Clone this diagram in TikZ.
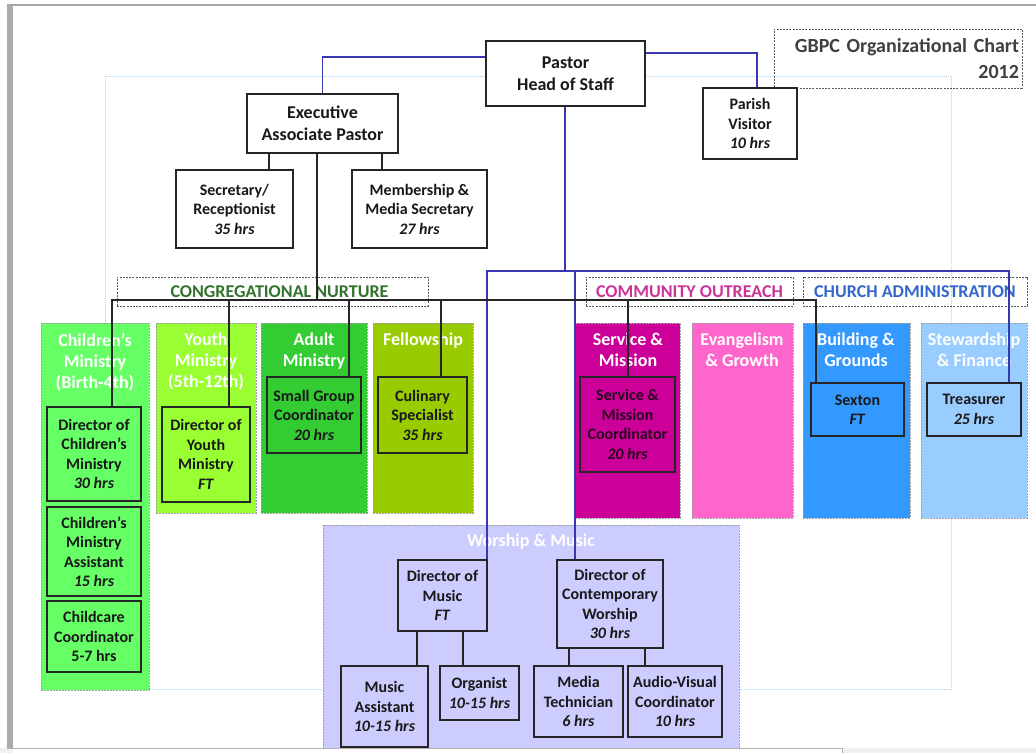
\documentclass[tikz,border=0pt]{standalone}
\usepackage{fontspec}
\setmainfont{Carlito}
\definecolor{cChild}{HTML}{66FF66}
\definecolor{cYouth}{HTML}{99FF33}
\definecolor{cAdult}{HTML}{33CC33}
\definecolor{cFellow}{HTML}{99CC00}
\definecolor{cServ}{HTML}{CC0099}
\definecolor{cEvang}{HTML}{FF66CC}
\definecolor{cBuild}{HTML}{3399FF}
\definecolor{cStew}{HTML}{99CCFF}
\definecolor{cWorship}{HTML}{CCCCFF}
\definecolor{cBlueLine}{RGB}{55,55,175}
\definecolor{cFrame}{RGB}{185,205,228}
\definecolor{cCong}{RGB}{50,115,45}
\definecolor{cComm}{RGB}{204,51,153}
\definecolor{cAdmin}{RGB}{51,102,204}
\newcommand\mkbox[7][]{\node[#1, minimum width={#5-#3}, minimum height={#6-#4}] (#2) at ({(#3+#5)/2},{(#4+#6)/2}) {#7};}
\begin{document}
\begin{tikzpicture}[x=1pt,y=-1pt,
  bx/.style={draw=black!85, line width=1.4pt, align=center, inner sep=0pt,
    font=\fontsize{16}{19.5}\selectfont\bfseries, text=black!90},
  bigbx/.style={bx, font=\fontsize{18}{22}\selectfont\bfseries},
  colbox/.style={draw=gray!75, line width=0.6pt, dash pattern=on 2pt off 1pt, inner sep=0pt},
  ctitle/.style={text=white, anchor=north, align=center, inner sep=0pt,
    font=\fontsize{18}{21}\selectfont\bfseries},
  headbox/.style={draw=gray!70!black, line width=0.6pt, dash pattern=on 2pt off 1.2pt, inner sep=0pt,
    font=\fontsize{18}{21}\selectfont\bfseries},
  conn/.style={draw=black!85, line width=1.4pt},
  bconn/.style={draw=cBlueLine, line width=1.5pt}]
\useasboundingbox (0,0) rectangle (1036,753);
\fill[white] (0,0) rectangle (1036,753);
% page frame
\fill[gray!65] (7,5) rectangle (13,748);
\draw[gray!70, line width=1.2pt] (7,5) -- (1036,5);
% large dotted frame
\draw[cFrame, line width=0.9pt, dash pattern=on 1pt off 1pt] (105,76) rectangle (951,689);
% title
\node[draw=gray!70!black, line width=0.6pt, dash pattern=on 2pt off 1.2pt, inner sep=0pt,
  minimum width=248, minimum height=59, text width=242, align=right, text=black!75,
  font=\fontsize{20}{26}\selectfont\bfseries] (title) at (898,58.5) {GBPC Organizational Chart\\2012};
% section headings
\mkbox[headbox, text=cCong]{hCong}{117}{277}{428}{306}{\hspace*{14pt}CONGREGATIONAL NURTURE}
\mkbox[headbox, text=cComm]{hComm}{586}{277}{793}{306}{COMMUNITY OUTREACH}
\mkbox[headbox, text=cAdmin]{hAdmin}{803}{277}{1027}{306}{CHURCH ADMINISTRATION}
% columns
\mkbox[colbox, fill=cChild]{colChild}{41}{323}{149}{690}{}
\mkbox[colbox, fill=cYouth]{colYouth}{156}{323}{256}{513}{}
\mkbox[colbox, fill=cAdult]{colAdult}{261}{323}{367}{513}{}
\mkbox[colbox, fill=cFellow]{colFellow}{373}{323}{473}{513}{}
\mkbox[colbox, fill=cServ]{colServ}{575}{323}{680}{518}{}
\mkbox[colbox, fill=cEvang]{colEvang}{692}{323}{793}{518}{}
\mkbox[colbox, fill=cBuild]{colBuild}{803}{323}{910}{518}{}
\mkbox[colbox, fill=cStew]{colStew}{921}{323}{1027}{518}{}
\node[ctitle] (tChild) at (95,333) {Children’s\\Ministry\\(Birth-4th)};
\node[ctitle] (tYouth) at (206,333) {Youth\\Ministry\\(5th-12th)};
\node[ctitle] (tAdult) at (314,333) {Adult\\Ministry};
\node[ctitle] (tFellow) at (423,333) {Fellowship};
\node[ctitle] (tServ) at (628,333) {Service \&\\Mission};
\node[ctitle] (tEvang) at (742,333) {Evangelism\\\& Growth};
\node[ctitle] (tBuild) at (856,333) {Building \&\\Grounds};
\node[ctitle] (tStew) at (974,333) {Stewardship\\\& Finance};
% worship area
\mkbox[colbox, fill=cWorship]{colWorship}{323}{525}{739}{752}{}
\node[ctitle] (tWorship) at (531,534) {Worship \& Music};
% top boxes
\mkbox[bigbx, fill=white]{pastor}{486}{41}{645}{106}{Pastor\\Head of Staff}
\mkbox[bigbx, fill=white]{exec}{247}{94}{398}{153}{Executive\\Associate Pastor}
\mkbox[bx, fill=white]{sec}{176}{170}{293}{248}{Secretary/\\Receptionist\\\textit{35 hrs}}
\mkbox[bx, fill=white]{memb}{352}{170}{487}{248}{Membership \&\\Media Secretary\\\textit{27 hrs}}
\mkbox[bx, fill=white]{parish}{703}{88}{797}{159}{Parish\\Visitor\\\textit{10 hrs}}
% staff boxes
\mkbox[bx, fill=cChild]{dchild}{47}{407}{141}{501}{Director of\\Children’s\\Ministry\\\textit{30 hrs}}
\mkbox[bx, fill=cChild]{casst}{47}{507}{141}{596}{Children’s\\Ministry\\Assistant\\\textit{15 hrs}}
\mkbox[bx, fill=cChild]{ccare}{47}{601}{141}{672}{Childcare\\Coordinator\\5-7 hrs}
\mkbox[bx, fill=cYouth]{dyouth}{162}{407}{250}{502}{Director of\\Youth\\Ministry\\\textit{FT}}
\mkbox[bx, fill=cAdult]{sgroup}{267}{377}{361}{453}{Small Group\\Coordinator\\\textit{20 hrs}}
\mkbox[bx, fill=cFellow]{culin}{378}{377}{467}{453}{Culinary\\Specialist\\\textit{35 hrs}}
\mkbox[bx, fill=cServ, text=black!80!cServ]{smcoord}{580}{377}{675}{472}{Service \&\\Mission\\Coordinator\\\textit{20 hrs}}
\mkbox[bx, fill=cBuild]{sexton}{811}{383}{904}{436}{Sexton\\\textit{FT}}
\mkbox[bx, fill=cStew]{treas}{927}{383}{1021}{436}{Treasurer\\\textit{25 hrs}}
\mkbox[bx, fill=cWorship]{dmusic}{398}{560}{487}{631}{Director of\\Music\\\textit{FT}}
\mkbox[bx, fill=cWorship]{dcont}{557}{560}{663}{648}{Director of\\Contemporary\\Worship\\\textit{30 hrs}}
\mkbox[bx, fill=cWorship]{masst}{341}{666}{428}{747}{Music\\Assistant\\\textit{10-15 hrs}}
\mkbox[bx, fill=cWorship]{organ}{440}{666}{519}{720}{Organist\\\textit{10-15 hrs}}
\mkbox[bx, fill=cWorship]{media}{534}{666}{623}{737}{Media\\Technician\\\textit{6 hrs}}
\mkbox[bx, fill=cWorship]{avc}{628}{666}{722}{737}{Audio-Visual\\Coordinator\\\textit{10 hrs}}
% junction points
\coordinate (bus) at (317,300);
\coordinate (bbus) at (565,271);
% blue connectors
\draw[bconn] ([yshift=16.5pt]pastor.west) -| (exec.north);
\draw[bconn] ([yshift=20.5pt]pastor.east) -| ([xshift=7pt]parish.north);
\draw[bconn] ([xshift=-0.5pt]pastor.south) -- (bbus);
\draw[bconn] (bbus) -| ([xshift=-0.5pt]dmusic.north east);
\draw[bconn] (bbus) -| ([xshift=-35pt]dcont.north);
\draw[bconn] (bbus) -| ([xshift=35pt]treas.north);
% black connectors
\draw[conn] ([xshift=-53.5pt]exec.south) -- ([xshift=34.5pt]sec.north);
\draw[conn] ([xshift=59.5pt]exec.south) -- ([xshift=-37.5pt]memb.north);
\draw[conn] ([xshift=-5.5pt]exec.south) -- (bus);
\draw[conn] (bus) -| ([xshift=18pt]dchild.north);
\draw[conn] (bus) -| ([xshift=23pt]dyouth.north);
\draw[conn] (bus) -| ([xshift=35pt]sgroup.north);
\draw[conn] (bus) -| ([xshift=18.5pt]culin.north);
\draw[conn] (bus) -| ([xshift=0.5pt]smcoord.north);
\draw[conn] (bus) -| ([xshift=-41.5pt]sexton.north);
\draw[conn] ([xshift=-25.5pt]dmusic.south) -- ([xshift=32.5pt]masst.north);
\draw[conn] ([xshift=20.5pt]dmusic.south) -- ([xshift=-16.5pt]organ.north);
\draw[conn] ([xshift=-41pt]dcont.south) -- ([xshift=-9.5pt]media.north);
\draw[conn] ([xshift=35pt]dcont.south) -- ([xshift=-30pt]avc.north);
% bottom bar of the window
\fill[gray!12] (0,748) rectangle (1036,753);
\fill[white] (13,749) rectangle (842,753);
\draw[gray!60, line width=1pt] (7,748.5) -- (842,748.5) -- (842,753);
\end{tikzpicture}
\end{document}
